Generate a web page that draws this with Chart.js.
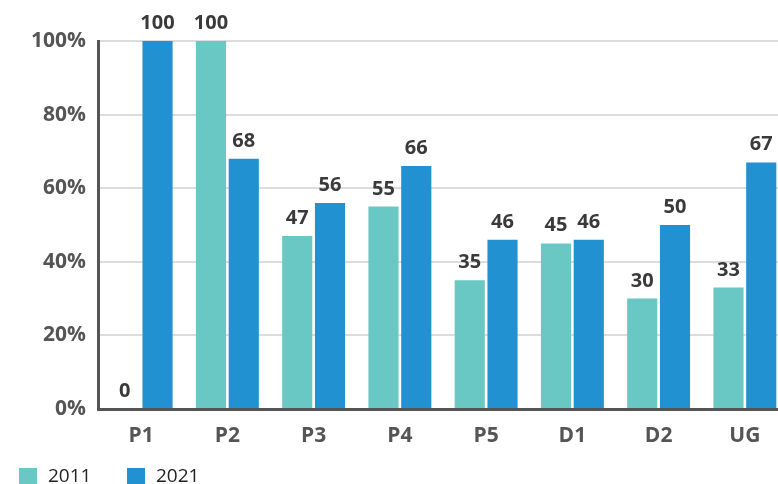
<!DOCTYPE html>
<html>
<head>
<meta charset="utf-8">
<script src="https://cdn.jsdelivr.net/npm/chart.js@4.4.1/dist/chart.umd.min.js"></script>
<style>
  html, body { margin: 0; padding: 0; background: #fff; overflow: hidden; }
  #wrap { width: 778px; height: 484px; overflow: hidden; }
</style>
</head>
<body>
<div id="wrap"><canvas id="myChart" width="788" height="484"></canvas></div>
<script>
(function () {
    "use strict";

    const categories = ['P1', 'P2', 'P3', 'P4', 'P5', 'D1', 'D2', 'UG'];
    const values2011 = [0, 100, 47, 55, 35, 45, 30, 33];
    const values2021 = [100, 68, 56, 66, 46, 46, 50, 67];
    const seriesNames = ['2011', '2021'];
    const yTicks = [0, 20, 40, 60, 80, 100];

    const BOLD = '"Open Sans", "DejaVu Sans", sans-serif';

    // value labels above each bar
    const barLabels = {
        id: 'barLabels',
        afterDatasetsDraw(chart) {
            const ctx = chart.ctx;
            ctx.save();
            ctx.font = 'bold 20px ' + BOLD;
            ctx.fillStyle = '#3a3a3a';
            ctx.textAlign = 'center';
            ctx.textBaseline = 'alphabetic';
            chart.data.datasets.forEach((ds, i) => {
                chart.getDatasetMeta(i).data.forEach((bar, j) => {
                    ctx.fillText(String(ds.data[j]), bar.x, bar.y - 12);
                });
            });
            ctx.restore();
        }
    };

    // legend in the bottom-left corner
    const bottomLegend = {
        id: 'bottomLegend',
        afterDraw(chart) {
            const ctx = chart.ctx;
            const starts = [19, 127];
            ctx.save();
            ctx.font = '19px "Open Sans", sans-serif';
            ctx.textBaseline = 'middle';
            ctx.textAlign = 'left';
            chart.data.datasets.forEach((ds, i) => {
                ctx.fillStyle = ds.backgroundColor;
                ctx.fillRect(starts[i], 468, 18, 18);
                ctx.fillStyle = '#222';
                ctx.fillText(ds.label, starts[i] + 29, 477);
            });
            ctx.restore();
        }
    };

    function initChart() {
        const ctx = document.getElementById('myChart').getContext('2d');
        new Chart(ctx, {
            type: 'bar',
            data: {
                labels: categories,
                datasets: [
                    {
                        label: seriesNames[0],
                        data: values2011,
                        backgroundColor: '#69c8c4',
                        categoryPercentage: 0.76,
                        barPercentage: 0.92
                    },
                    {
                        label: seriesNames[1],
                        data: values2021,
                        backgroundColor: '#2191d1',
                        categoryPercentage: 0.76,
                        barPercentage: 0.92
                    }
                ]
            },
            options: {
                responsive: false,
                devicePixelRatio: 1,
                animation: false,
                layout: { padding: { top: 41, bottom: 30, left: 0, right: 0 } },
                plugins: {
                    legend: { display: false },
                    tooltip: { enabled: false }
                },
                scales: {
                    x: {
                        grid: { display: false, drawTicks: false },
                        border: { color: '#555', width: 3 },
                        ticks: {
                            padding: 14,
                            color: '#555',
                            font: { family: BOLD, weight: 'bold', size: 21 }
                        },
                        afterFit(scale) { scale.height = 45; }
                    },
                    y: {
                        min: 0,
                        max: 100,
                        afterBuildTicks(scale) {
                            scale.ticks = yTicks.map(v => ({ value: v }));
                        },
                        grid: {
                            drawTicks: false,
                            color: c => c.tick && c.tick.value === 0 ? 'rgba(0,0,0,0)' : '#dcdcdc',
                            lineWidth: 2
                        },
                        border: { color: '#555', width: 3 },
                        ticks: {
                            padding: 12,
                            color: '#555',
                            font: { family: BOLD, weight: 'bold', size: 21 },
                            callback: v => v + '%'
                        },
                        afterFit(scale) { scale.width = 98; }
                    }
                }
            },
            plugins: [barLabels, bottomLegend]
        });
    }

    document.addEventListener('DOMContentLoaded', initChart);
})();
</script>
</body>
</html>
